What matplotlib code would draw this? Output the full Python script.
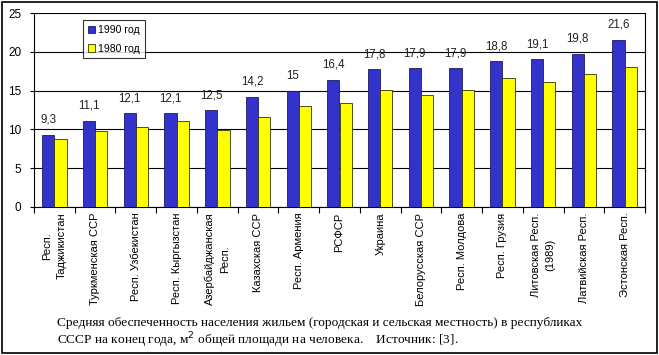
import matplotlib
matplotlib.use("Agg")
import matplotlib.pyplot as plt
import numpy as np
from matplotlib.patches import Rectangle

categories = ["Респ.\nТаджикистан", "Туркменская ССР", "Респ. Узбекистан",
              "Респ. Кыргызстан", "Азербайджанская\nРесп.", "Казахская ССР",
              "Респ. Армения", "РСФСР", "Украина", "Белорусская ССР",
              "Респ. Молдова", "Респ. Грузия", "Литовская Респ.\n(1989)",
              "Латвийская Респ.", "Эстонская Респ."]
values_1990 = [9.3, 11.1, 12.1, 12.1, 12.5, 14.2, 15, 16.4, 17.8, 17.9, 17.9, 18.8, 19.1, 19.8, 21.6]
values_1980 = [8.7, 9.8, 10.3, 11.1, 9.9, 11.6, 13.0, 13.4, 15.1, 14.4, 15.1, 16.6, 16.1, 17.2, 18.1]
labels_1990 = ["9,3", "11,1", "12,1", "12,1", "12,5", "14,2", "15", "16,4", "17,8",
               "17,9", "17,9", "18,8", "19,1", "19,8", "21,6"]
series_names = ["1990 год", "1980 год"]
yticks = [0, 5, 10, 15, 20, 25]

sans = "Liberation Sans"
serif = "Liberation Serif"

W, H = 659, 355
fig = plt.figure(figsize=(W / 100, H / 100), dpi=100)
fig.patch.set_facecolor("white")

# outer frame
fig.add_artist(Rectangle((1.5 / W, 1 - 352.5 / H), 655 / W, 351 / H,
                         transform=fig.transFigure, fill=False,
                         edgecolor="black", linewidth=1.2))

left, right, top, bottom = 34, 645, 13.3, 206.7
ax = fig.add_axes([left / W, 1 - bottom / H, (right - left) / W, (bottom - top) / H])

x = np.arange(len(categories))
bw = 0.3
ax.bar(x - bw / 2, values_1990, bw, color="#3333CC", edgecolor="#1a1a66",
       linewidth=0.6, label=series_names[0], zorder=3)
ax.bar(x + bw / 2, values_1980, bw, color="#FFFF00", edgecolor="#333300",
       linewidth=0.6, label=series_names[1], zorder=3)

for xi, v, lab in zip(x, values_1990, labels_1990):
    ax.text(xi - bw / 2, v + 1.15, lab, ha="center", va="bottom",
            fontsize=8.3, family=sans, color="#222222")

ax.set_xlim(-0.5, len(categories) - 0.5)
ax.set_ylim(0, 25)
ax.set_yticks(yticks)
ax.set_yticklabels([str(t) for t in yticks], family=sans, fontsize=8.5)
ax.yaxis.grid(True, color="black", linewidth=0.8, zorder=0)
ax.set_axisbelow(True)

ax.set_xticks(np.arange(len(categories) + 1) - 0.5)
ax.set_xticklabels([])
ax.tick_params(axis="x", direction="out", length=4, width=0.8)
ax.tick_params(axis="y", direction="out", length=3, width=0.8, pad=6)

for xi, lab in zip(x, categories):
    ax.text(xi, -0.03, lab, transform=ax.get_xaxis_transform(), rotation=90,
            ha="center", va="top", multialignment="center",
            fontsize=8, family=sans, linespacing=1.6)

ax.spines["top"].set_visible(False)
for s in ["right", "left", "bottom"]:
    ax.spines[s].set_linewidth(0.8)

leg = ax.legend(loc="upper left", bbox_to_anchor=((83 - left) / (right - left), 1 - (20 - top) / (bottom - top)),
                prop={"family": sans, "size": 7.6}, frameon=True, fancybox=False,
                edgecolor="black", handlelength=0.65, handleheight=0.65,
                handletextpad=0.35, borderpad=0.45, labelspacing=0.85,
                borderaxespad=0)
leg.get_frame().set_linewidth(0.8)

fig.text(57 / W, 1 - 323 / H,
         "Средняя обеспеченность населения жильем (городская и сельская местность) в республиках",
         family=serif, fontsize=9.6, va="center", ha="left")
fig.text(57 / W, 1 - 340 / H,
         "СССР на конец года, м$^2$ общей площади на человека.    Источник: [3].",
         family=serif, fontsize=9.6, va="center", ha="left")

fig.savefig("out.png", dpi=100)
